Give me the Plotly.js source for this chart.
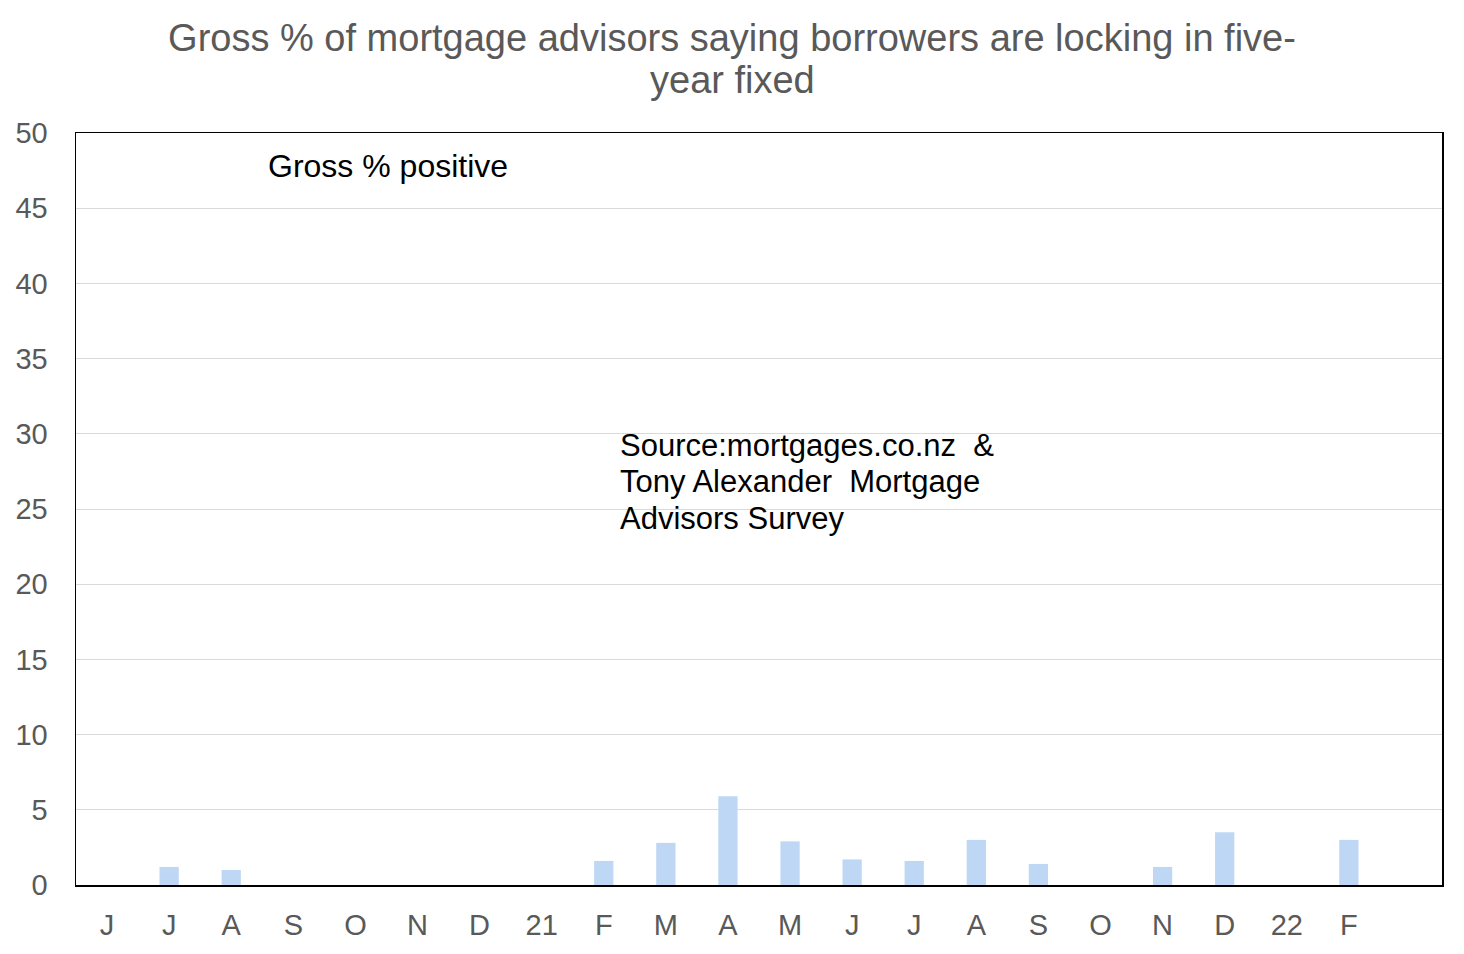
<!DOCTYPE html>
<html>
<head>
<meta charset="utf-8">
<script src="https://cdn.plot.ly/plotly-3.0.1.min.js"></script>
<style>html,body{margin:0;padding:0;background:#fff;}#chart{width:1464px;height:954px;}</style>
</head>
<body>
<div id="chart"></div>
<script>
// Month labels (Jun 2020 .. Mar 2022); last slot unlabeled
const tickLabels = ["J","J","A","S","O","N","D","21","F","M","A","M","J","J","A","S","O","N","D","22","F",""];
// Gross % positive, per month
const grossPositive = [0, 1.2, 1.0, 0, 0, 0, 0, 0, 1.6, 2.8, 5.9, 2.9, 1.7, 1.6, 3.0, 1.4, 0, 1.2, 3.5, 0, 3.0, 0];
const yTicks = [0,5,10,15,20,25,30,35,40,45,50];
const titleLine1 = "Gross % of mortgage advisors saying borrowers are locking in five-";
const titleLine2 = "year fixed";
const sourceLines = ["Source:mortgages.co.nz &nbsp;&amp;", "Tony Alexander &nbsp;Mortgage", "Advisors Survey"];

const xIdx = tickLabels.map((_, i) => i);
const FONT = "Liberation Sans, Arial, sans-serif";
const py = (pix) => (885 - pix) / 752;
const px = (pix) => (pix - 76) / 1366;

const data = [{
  type: "bar",
  x: xIdx,
  y: grossPositive,
  marker: {color: "#bdd7f5", line: {width: 0}},
  hoverinfo: "x+y"
}];

const sourceY = [445, 482, 518];
const annotations = [
  {
    text: titleLine2,
    xref: "paper", yref: "paper",
    x: px(732), y: py(80),
    xanchor: "center", yanchor: "middle",
    showarrow: false,
    font: {family: FONT, size: 38, color: "#595959"}
  },
  {
    text: "Gross % positive",
    xref: "paper", yref: "paper",
    x: px(266), y: py(166),
    xanchor: "left", yanchor: "middle",
    showarrow: false,
    font: {family: FONT, size: 32, color: "#000"}
  }
].concat(sourceLines.map((t, i) => ({
  text: t,
  xref: "paper", yref: "paper",
  x: px(618), y: py(sourceY[i]),
  xanchor: "left", yanchor: "middle", align: "left",
  showarrow: false,
  font: {family: FONT, size: 31, color: "#000"}
})));

const layout = {
  width: 1464, height: 954,
  margin: {l: 76, r: 22, t: 133, b: 69},
  paper_bgcolor: "#fff", plot_bgcolor: "#fff",
  bargap: 0.69,
  showlegend: false,
  font: {family: FONT, color: "#595959"},
  title: {
    text: titleLine1,
    font: {family: FONT, size: 38, color: "#595959"},
    xref: "container", x: 0.5, xanchor: "center",
    yref: "container", y: 1 - 38/954, yanchor: "middle"
  },
  xaxis: {
    range: [-0.5, 21.5],
    tickvals: xIdx,
    ticktext: tickLabels,
    showgrid: false, zeroline: false,
    showline: true, mirror: true, linecolor: "#000", linewidth: 1.5,
    ticks: "outside", ticklen: 14, tickcolor: "rgba(0,0,0,0)",
    tickfont: {family: FONT, size: 29, color: "#595959"},
    fixedrange: true
  },
  yaxis: {
    range: [0, 50],
    tickvals: yTicks,
    ticktext: yTicks.map(String),
    showgrid: true, gridcolor: "#d9d9d9", gridwidth: 1,
    zeroline: false,
    showline: true, mirror: true, linecolor: "#000", linewidth: 1.5,
    ticks: "outside", ticklen: 21, tickcolor: "rgba(0,0,0,0)",
    tickfont: {family: FONT, size: 29, color: "#595959"},
    fixedrange: true
  },
  annotations: annotations
};

Plotly.newPlot("chart", data, layout, {displayModeBar: false, staticPlot: true});
</script>
</body>
</html>
